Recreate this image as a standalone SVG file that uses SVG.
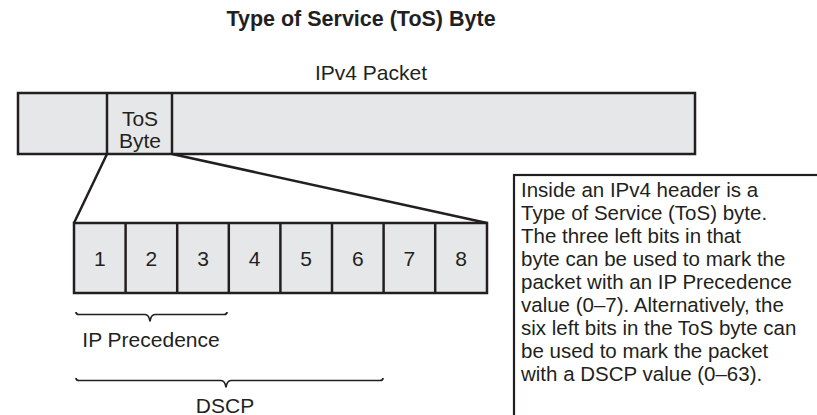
<svg xmlns="http://www.w3.org/2000/svg" width="817" height="415" viewBox="0 0 817 415">
<style>
text{font-family:"Liberation Sans",Arial,sans-serif;fill:#231f20}
.box{fill:#e6e7e8;stroke:#231f20;stroke-width:2.5}
.lbl{font-size:21px;text-anchor:middle}
.note{font-size:20.5px}
.ln{fill:none;stroke:#231f20;stroke-width:2.5}
.br{fill:none;stroke:#231f20;stroke-width:1.7}
</style>
<rect width="817" height="415" fill="#fff"/>
<text x="361" y="26" class="lbl" style="font-weight:bold;font-size:21.5px">Type of Service (ToS) Byte</text>
<text x="371" y="80" class="lbl">IPv4 Packet</text>
<g id="packet">
<rect class="box" x="18" y="93" width="677" height="61"/>
<line class="ln" x1="107" y1="93" x2="107" y2="154"/>
<line class="ln" x1="172" y1="93" x2="172" y2="154"/>
</g>
<g id="tos-byte">
<text x="140" y="125.5" class="lbl">ToS</text>
<text x="140" y="147.5" class="lbl">Byte</text>
</g>
<g id="connectors">
<line class="ln" x1="107" y1="154" x2="74" y2="223"/>
<line class="ln" x1="172" y1="154" x2="487" y2="223"/>
</g>
<g id="bits">
<rect class="box" x="74" y="223" width="413" height="70"/>
<line class="ln" x1="125.6" y1="223" x2="125.6" y2="293"/>
<line class="ln" x1="177.2" y1="223" x2="177.2" y2="293"/>
<line class="ln" x1="228.8" y1="223" x2="228.8" y2="293"/>
<line class="ln" x1="280.4" y1="223" x2="280.4" y2="293"/>
<line class="ln" x1="332" y1="223" x2="332" y2="293"/>
<line class="ln" x1="383.6" y1="223" x2="383.6" y2="293"/>
<line class="ln" x1="435.2" y1="223" x2="435.2" y2="293"/>
<text x="99.8" y="265.5" class="lbl">1</text>
<text x="151.4" y="265.5" class="lbl">2</text>
<text x="203" y="265.5" class="lbl">3</text>
<text x="254.6" y="265.5" class="lbl">4</text>
<text x="306.2" y="265.5" class="lbl">5</text>
<text x="357.8" y="265.5" class="lbl">6</text>
<text x="409.4" y="265.5" class="lbl">7</text>
<text x="461" y="265.5" class="lbl">8</text>
</g>
<g id="ip-precedence">
<path class="br" d="M76,312 q0,2.5 3,2.5 L145,314.5 q4,0 5,7 q1,-7 5,-7 L224,314.5 q3,0 3,-2.5"/>
<text x="151" y="346.5" class="lbl">IP Precedence</text>
</g>
<g id="dscp">
<path class="br" d="M76,378 q0,2.5 3,2.5 L221,380.5 q4,0 5,7 q1,-7 5,-7 L380,380.5 q3,0 3,-2.5"/>
<text x="225" y="412.5" class="lbl">DSCP</text>
</g>
<g id="note">
<rect x="514" y="175" width="320" height="260" fill="#fff" stroke="#231f20" stroke-width="2.2"/>
<text class="note" x="521" y="196.5">Inside an IPv4 header is a</text>
<text class="note" x="521" y="219.5">Type of Service (ToS) byte.</text>
<text class="note" x="521" y="242.5">The three left bits in that</text>
<text class="note" x="521" y="265.5">byte can be used to mark the</text>
<text class="note" x="521" y="288.5">packet with an IP Precedence</text>
<text class="note" x="521" y="311.5">value (0–7). Alternatively, the</text>
<text class="note" x="521" y="334.5">six left bits in the ToS byte can</text>
<text class="note" x="521" y="357.5">be used to mark the packet</text>
<text class="note" x="521" y="380.5">with a DSCP value (0–63).</text>
</g>
</svg>
